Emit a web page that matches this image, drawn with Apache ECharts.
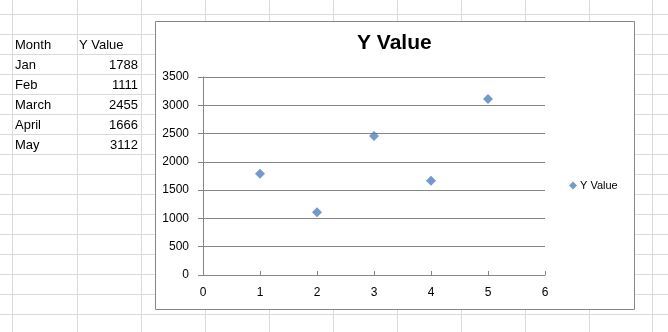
<!DOCTYPE html>
<html><head><meta charset="utf-8">
<script src="https://cdn.jsdelivr.net/npm/echarts@6/dist/echarts.min.js"></script>
<style>html,body{margin:0;padding:0;background:#fff}#c{width:668px;height:332px}</style>
</head><body><div id="c"></div>
<script>
// ---- data ----
const months = ['Jan', 'Feb', 'March', 'April', 'May'];
const yValues = [1788, 1111, 2455, 1666, 3112];
const xPositions = [1, 2, 3, 4, 5];
const headers = ['Month', 'Y Value'];
const seriesName = 'Y Value';
const chartTitle = 'Y Value';
const xAxisRange = { min: 0, max: 6, interval: 1 };
const yAxisRange = { min: 0, max: 3500, interval: 500 };

// ---- layout / style ----
const FONT = '"Liberation Sans", Arial, sans-serif';
const sheetLine = '#dadada';
const chartLine = '#868686';
const rowLineYs = [];
for (let y = 14; y <= 332; y += 20) rowLineYs.push(y);
const colLineXs = [12, 77, 141, 205, 269, 333, 397, 461, 525, 589, 652];

const graphics = [];
rowLineYs.forEach(y => graphics.push({
  type: 'line', z: -3, silent: true,
  shape: { x1: 0, y1: y + 0.5, x2: 668, y2: y + 0.5 },
  style: { stroke: sheetLine, lineWidth: 1 }
}));
colLineXs.forEach(x => graphics.push({
  type: 'line', z: -3, silent: true,
  shape: { x1: x + 0.5, y1: 0, x2: x + 0.5, y2: 332 },
  style: { stroke: sheetLine, lineWidth: 1 }
}));
// chart area
graphics.push({
  type: 'rect', z: -2, silent: true,
  shape: { x: 155.5, y: 21.5, width: 479, height: 288 },
  style: { fill: '#fff', stroke: chartLine, lineWidth: 1 }
});
// table text
function cell(text, x, y, align) {
  return {
    type: 'text', z: -1, silent: true, x: x, y: y,
    style: { text: text, font: '13px ' + FONT, fill: '#000',
      textAlign: align, align: align, textVerticalAlign: 'middle', verticalAlign: 'middle' }
  };
}
graphics.push(cell(headers[0], 15, 45, 'left'));
graphics.push(cell(headers[1], 79, 45, 'left'));
months.forEach((m, i) => {
  graphics.push(cell(m, 15, 65 + 20 * i, 'left'));
  graphics.push(cell(String(yValues[i]), 138, 65 + 20 * i, 'right'));
});

const chart = echarts.init(document.getElementById('c'), null, { renderer: 'canvas' });
chart.setOption({
  animation: false,
  backgroundColor: '#fff',
  graphic: { elements: graphics },
  title: {
    text: chartTitle, left: 357, top: 33, padding: 0,
    textStyle: { fontFamily: FONT, fontSize: 21, fontWeight: 'bold', color: '#000' }
  },
  legend: {
    left: 569, top: 180, padding: 0,
    icon: 'diamond', itemWidth: 8, itemHeight: 8, itemGap: 4,
    data: [seriesName],
    textStyle: { fontFamily: FONT, fontSize: 11, color: '#000', padding: [0, 0, 0, -2] }
  },
  grid: { left: 203, right: 123, top: 77, bottom: 57, containLabel: false },
  xAxis: {
    type: 'value', min: xAxisRange.min, max: xAxisRange.max, interval: xAxisRange.interval,
    axisLine: { show: true, lineStyle: { color: chartLine, width: 1 } },
    axisTick: { show: true, inside: true, length: 4, lineStyle: { color: chartLine } },
    axisLabel: { margin: 12, fontFamily: FONT, fontSize: 12, color: '#000',
      formatter: v => String(v) },
    splitLine: { show: false }
  },
  yAxis: {
    type: 'value', min: yAxisRange.min, max: yAxisRange.max, interval: yAxisRange.interval,
    axisLine: { show: true, lineStyle: { color: chartLine, width: 1 } },
    axisTick: { show: true, length: 5, lineStyle: { color: chartLine } },
    axisLabel: { margin: 14, fontFamily: FONT, fontSize: 12, color: '#000',
      formatter: v => String(v) },
    splitLine: { show: true, lineStyle: { color: chartLine, width: 1 } }
  },
  series: [{
    name: seriesName, type: 'scatter',
    symbol: 'diamond', symbolSize: 10,
    itemStyle: { color: '#4F81BD' },
    data: xPositions.map((x, i) => [x, yValues[i]])
  }]
});
</script>
</body></html>
